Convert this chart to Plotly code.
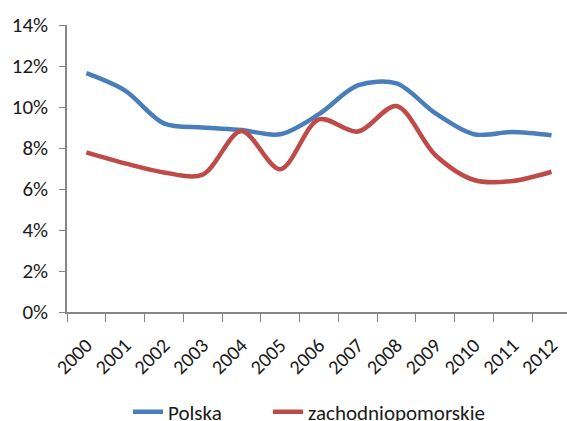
import plotly.graph_objects as go

years = ["2000", "2001", "2002", "2003", "2004", "2005", "2006",
         "2007", "2008", "2009", "2010", "2011", "2012"]
polska = [11.65, 10.8, 9.2, 9.0, 8.88, 8.67, 9.65, 11.05, 11.15, 9.7, 8.67, 8.78, 8.62]
zachodniopomorskie = [7.79, 7.25, 6.81, 6.7, 8.83, 6.96, 9.4, 8.8, 10.05, 7.66, 6.44, 6.39, 6.84]

polska_f = [v / 100 for v in polska]
zach_f = [v / 100 for v in zachodniopomorskie]

font_family = "Carlito, Liberation Sans, Arial, sans-serif"

fig = go.Figure()
fig.add_trace(go.Scatter(x=years, y=polska_f, name="Polska", mode="lines",
                         legend="legend",
                         line=dict(color="#4A7EBB", width=4.5, shape="spline", smoothing=0.9)))
fig.add_trace(go.Scatter(x=years, y=zach_f, name="zachodniopomorskie", mode="lines",
                         legend="legend2",
                         line=dict(color="#BE4B48", width=4.5, shape="spline", smoothing=0.9)))

legend_common = dict(orientation="h", xanchor="left", xref="container",
                     y=0.021, yref="container", yanchor="middle",
                     font=dict(size=21), bgcolor="rgba(0,0,0,0)")

fig.update_layout(
    width=567, height=421,
    margin=dict(l=67, r=0, t=25, b=109, autoexpand=False),
    paper_bgcolor="white", plot_bgcolor="white",
    font=dict(family=font_family, size=21, color="#1a1a1a"),
    showlegend=True,
    legend=dict(x=128 / 567, **legend_common),
    legend2=dict(x=268 / 567, **legend_common),
    xaxis=dict(type="category", range=[-0.5, 12.4], tickson="boundaries",
               ticks="outside", ticklen=8, tickcolor="#868686",
               showline=True, linecolor="#868686", linewidth=1.5,
               showgrid=False, tickangle=-45, tickfont=dict(size=20),
               ticklabelshift=0, ticklabelstandoff=12, automargin=False),
    yaxis=dict(range=[0, 0.14], dtick=0.02, tickformat=".0%",
               ticks="outside", ticklen=6, tickcolor="#868686",
               showline=True, linecolor="#868686", linewidth=1.5,
               showgrid=False, zeroline=False, tickfont=dict(size=21),
               ticklabelstandoff=7, automargin=False),
)

fig.write_html("out.html", config={"displayModeBar": False},
               post_script="document.body.style.margin='0';document.body.style.overflow='hidden';")
